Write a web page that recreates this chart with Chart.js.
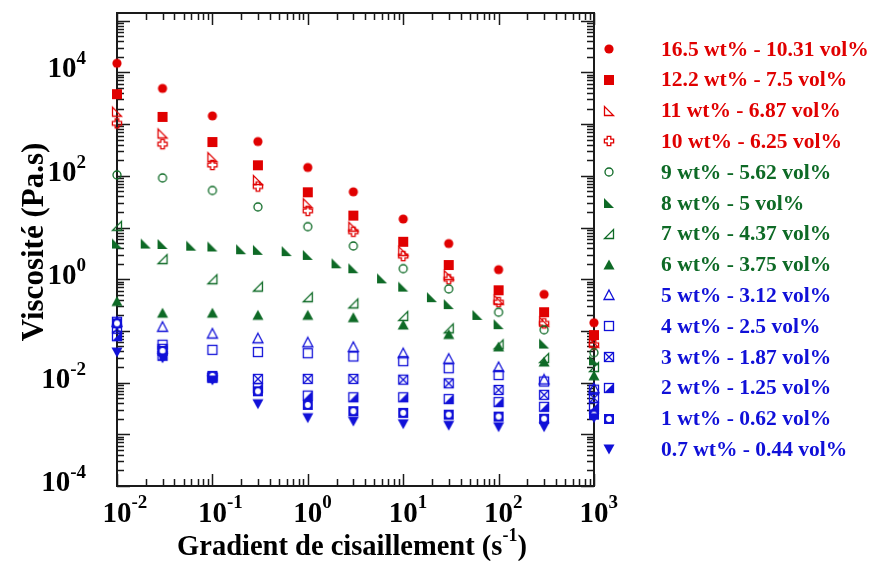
<!DOCTYPE html>
<html>
<head>
<meta charset="utf-8">
<script src="https://cdn.jsdelivr.net/npm/chart.js@4/dist/chart.umd.min.js"></script>
<style>
html, body { margin: 0; padding: 0; background: #fff; }
</style>
</head>
<body>
<canvas id="chart" width="869" height="561"></canvas>
<script>
// shear rates (s-1)
const shear = [0.01, 0.03, 0.1, 0.3, 1, 3, 10, 30, 100, 300, 1000];
const shearFine = [0.01, 0.02, 0.03, 0.06, 0.1, 0.2, 0.3, 0.6, 1, 2, 3, 6, 10, 20, 30, 60, 100, 300, 1000];

const seriesLabels = [
    "16.5 wt% - 10.31 vol%", "12.2 wt% - 7.5 vol%", "11 wt% - 6.87 vol%", "10 wt% - 6.25 vol%",
    "9 wt% - 5.62 vol%", "8 wt% - 5 vol%", "7 wt% - 4.37 vol%", "6 wt% - 3.75 vol%",
    "5 wt% - 3.12 vol%", "4 wt% - 2.5 vol%", "3 wt% - 1.87 vol%", "2 wt% - 1.25 vol%",
    "1 wt% - 0.62 vol%", "0.7 wt% - 0.44 vol%"
];

// viscosity (Pa.s)
const v16_5 = [15000, 4900, 1440, 460, 145, 49, 14.6, 4.9, 1.53, 0.51, 0.144];
const v12_2 = [3800, 1380, 450, 160, 48, 17, 5.3, 1.88, 0.61, 0.23, 0.083];
const v11 = [1740, 660, 230, 83, 29.5, 10.4, 3.5, 1.2, 0.4, 0.15, 0.059];
const v10 = [1035, 410, 162, 62, 21, 8.3, 2.8, 1.0, 0.36, 0.14, 0.054];
const v9 = [104, 91, 52, 25, 10.4, 4.4, 1.6, 0.65, 0.23, 0.105, 0.038];
const v8 = [4.9, 4.9, 4.8, 4.45, 4.3, 3.8, 3.7, 3.5, 2.95, 2.03, 1.63, 1.04, 0.72, 0.45, 0.33, 0.204, 0.135, 0.057, 0.027];
const v7 = [10.8, 2.45, 1.0, 0.72, 0.45, 0.34, 0.195, 0.112, 0.055, 0.03, 0.02];
const v6 = [0.37, 0.22, 0.22, 0.20, 0.20, 0.18, 0.13, 0.085, 0.049, 0.025, 0.0135];
const v5 = [0.15, 0.12, 0.089, 0.072, 0.060, 0.049, 0.037, 0.029, 0.020, 0.0115, 0.0078];
const v4 = [0.15, 0.054, 0.043, 0.039, 0.037, 0.032, 0.026, 0.019, 0.014, 0.0105, 0.0073];
const v3 = [0.11, 0.045, 0.0125, 0.0118, 0.0118, 0.0118, 0.0114, 0.0097, 0.0072, 0.0058, 0.0050];
const v2 = [0.079, 0.033, 0.0125, 0.0078, 0.0056, 0.0052, 0.0052, 0.0048, 0.0042, 0.0034, 0.0034];
const v1 = [0.14, 0.041, 0.0135, 0.0068, 0.0037, 0.0028, 0.0026, 0.0024, 0.0022, 0.0020, 0.0024];
const v0_7 = [0.039, 0.030, 0.0112, 0.0039, 0.0021, 0.0018, 0.0016, 0.0015, 0.0014, 0.0014, 0.0021];

const xTickExp = [-2, -1, 0, 1, 2, 3];
const yTickExp = [-4, -2, 0, 2, 4];

const RED = "#e00000";
const GREEN = "#0e6a26";
const BLUE = "#1010d8";
const SERIF = "'Liberation Serif', 'Times New Roman', serif";

// marker images
function marker(kind, color) {
    const c = document.createElement("canvas");
    c.width = 14; c.height = 14;
    const g = c.getContext("2d");
    g.fillStyle = color; g.strokeStyle = color; g.lineWidth = 1.3;
    const path = pts => { g.beginPath(); g.moveTo(pts[0][0], pts[0][1]); pts.slice(1).forEach(p => g.lineTo(p[0], p[1])); g.closePath(); };
    switch (kind) {
        case "circle": g.beginPath(); g.arc(7, 7, 4.6, 0, Math.PI * 2); g.fill(); break;
        case "square": g.fillRect(2, 2, 10, 10); break;
        case "triBL": path([[2.5, 2.5], [2.5, 11.5], [11.5, 11.5]]); g.stroke(); break;
        case "plus": {
            const a = 1.8, b = 4.6;
            path([[7 - a, 7 - b], [7 + a, 7 - b], [7 + a, 7 - a], [7 + b, 7 - a], [7 + b, 7 + a], [7 + a, 7 + a],
                  [7 + a, 7 + b], [7 - a, 7 + b], [7 - a, 7 + a], [7 - b, 7 + a], [7 - b, 7 - a], [7 - a, 7 - a]]);
            g.stroke(); break;
        }
        case "circleOpen": g.beginPath(); g.arc(7, 7, 4, 0, Math.PI * 2); g.stroke(); break;
        case "triBLFill": path([[2, 2], [2, 12], [12, 12]]); g.fill(); break;
        case "triBR": path([[11.5, 2.5], [11.5, 11.5], [2.5, 11.5]]); g.stroke(); break;
        case "triUpFill": path([[7, 1.5], [12.5, 11.5], [1.5, 11.5]]); g.fill(); break;
        case "triUp": path([[7, 2], [12, 11.5], [2, 11.5]]); g.stroke(); break;
        case "squareOpen": g.strokeRect(2.5, 2.5, 9, 9); break;
        case "squareX":
            g.strokeRect(2.5, 2.5, 9, 9);
            g.beginPath(); g.moveTo(2.5, 2.5); g.lineTo(11.5, 11.5); g.moveTo(11.5, 2.5); g.lineTo(2.5, 11.5); g.stroke(); break;
        case "squareHalf":
            g.strokeRect(2.5, 2.5, 9, 9);
            path([[11.5, 2.5], [11.5, 11.5], [2.5, 11.5]]); g.fill(); break;
        case "squareDot":
            g.fillRect(2, 2, 10, 10);
            g.fillStyle = "#fff"; g.beginPath(); g.arc(7, 7, 2.9, 0, Math.PI * 2); g.fill(); break;
        case "triDownFill": path([[1.5, 2.5], [12.5, 2.5], [7, 12.5]]); g.fill(); break;
    }
    return c;
}

const seriesX = [shear, shear, shear, shear, shear, shearFine, shear, shear, shear, shear, shear, shear, shear, shear];
const seriesY = [v16_5, v12_2, v11, v10, v9, v8, v7, v6, v5, v4, v3, v2, v1, v0_7];
const seriesColor = [RED, RED, RED, RED, GREEN, GREEN, GREEN, GREEN, BLUE, BLUE, BLUE, BLUE, BLUE, BLUE];
const seriesMarker = ["circle", "square", "triBL", "plus", "circleOpen", "triBLFill", "triBR", "triUpFill",
    "triUp", "squareOpen", "squareX", "squareHalf", "squareDot", "triDownFill"];

const markerImgs = seriesMarker.map((m, i) => marker(m, seriesColor[i]));

const datasets = seriesLabels.map((label, i) => ({
    label: label,
    data: seriesY[i].map((v, j) => ({ x: seriesX[i][j], y: v })),
    pointStyle: markerImgs[i],
    pointRadius: 5,
    showLine: false,
    clip: false,
    order: seriesLabels.length - i
}));

// frame, inward ticks, tick labels, titles, legend
const decorations = {
    id: "decorations",
    beforeDatasetsDraw(chart) {
        const { ctx, chartArea: a, scales: { x, y } } = chart;
        ctx.save();
        ctx.strokeStyle = "#1a1a1a";
        ctx.lineWidth = 1.5;
        ctx.beginPath();
        for (let e = -2; e <= 3; e++) {
            for (let k = 1; k <= 9; k++) {
                const v = k * Math.pow(10, e);
                if (v > x.max * 1.0001) break;
                const px = Math.round(x.getPixelForValue(v)) + 0.5;
                const len = k === 1 ? 12 : 7;
                ctx.moveTo(px, a.bottom); ctx.lineTo(px, a.bottom - len);
                ctx.moveTo(px, a.top); ctx.lineTo(px, a.top + len);
            }
        }
        for (let e = -4; e <= 5; e++) {
            for (let k = 1; k <= 9; k++) {
                const v = k * Math.pow(10, e);
                if (v > y.max * 1.0001) break;
                const py = Math.round(y.getPixelForValue(v)) + 0.5;
                const len = k === 1 ? 13 : 7;
                ctx.moveTo(a.left, py); ctx.lineTo(a.left + len, py);
                ctx.moveTo(a.right, py); ctx.lineTo(a.right - len, py);
            }
        }
        ctx.stroke();
        ctx.lineWidth = 2;
        ctx.strokeRect(a.left, a.top, a.right - a.left, a.bottom - a.top);
        ctx.restore();
    },
    afterDraw(chart) {
        const { ctx, scales: { x, y } } = chart;
        ctx.save();
        ctx.fillStyle = "#000";
        ctx.textBaseline = "alphabetic";
        // x tick labels
        xTickExp.forEach(e => {
            const px = x.getPixelForValue(Math.pow(10, e));
            ctx.font = "bold 29px " + SERIF;
            const w = ctx.measureText("10").width;
            ctx.textAlign = "left";
            ctx.fillText("10", px - w / 2, 522);
            ctx.font = "bold 19px " + SERIF;
            ctx.fillText(String(e), px + w / 2, 508);
        });
        // y tick labels
        yTickExp.forEach(e => {
            const py = y.getPixelForValue(Math.pow(10, e));
            ctx.font = "bold 19px " + SERIF;
            const sup = String(e);
            const ws = ctx.measureText(sup).width;
            ctx.font = "bold 29px " + SERIF;
            const w = ctx.measureText("10").width;
            ctx.textAlign = "left";
            const right = 86;
            ctx.fillText("10", right - ws - w, py + 5);
            ctx.font = "bold 19px " + SERIF;
            ctx.fillText(sup, right - ws, py - 8);
        });
        // x title with superscript
        const t1 = "Gradient de cisaillement (s", t2 = "-1", t3 = ")";
        ctx.font = "bold 28.5px " + SERIF;
        const w1 = ctx.measureText(t1).width, w3 = ctx.measureText(t3).width;
        ctx.font = "bold 18px " + SERIF;
        const w2 = ctx.measureText(t2).width;
        let sx = 352 - (w1 + w2 + w3) / 2;
        ctx.font = "bold 28.5px " + SERIF;
        ctx.fillText(t1, sx, 555);
        ctx.font = "bold 18px " + SERIF;
        ctx.fillText(t2, sx + w1, 541);
        ctx.font = "bold 28.5px " + SERIF;
        ctx.fillText(t3, sx + w1 + w2, 555);
        // y title
        ctx.save();
        ctx.translate(43, 242);
        ctx.rotate(-Math.PI / 2);
        ctx.textAlign = "center";
        ctx.font = "bold 31px " + SERIF;
        ctx.fillText("Viscosité (Pa.s)", 0, 0);
        ctx.restore();
        // legend
        ctx.font = "bold 21.5px " + SERIF;
        ctx.textBaseline = "middle";
        ctx.textAlign = "left";
        seriesLabels.forEach((label, i) => {
            const ry = 49 + i * 30.8;
            const img = markerImgs[i];
            ctx.drawImage(img, Math.round(609 - img.width / 2), Math.round(ry - img.height / 2));
            ctx.fillStyle = seriesColor[i];
            ctx.fillText(label, 661, ry + 1);
        });
        ctx.restore();
    }
};

new Chart(document.getElementById("chart"), {
    type: "scatter",
    data: { datasets: datasets },
    options: {
        responsive: false,
        animation: false,
        devicePixelRatio: 1,
        layout: { padding: { left: 0, right: 275, top: 13, bottom: 0 } },
        plugins: { legend: { display: false }, tooltip: { enabled: false } },
        scales: {
            x: {
                type: "logarithmic",
                min: 0.01,
                max: 1000,
                ticks: { display: false },
                grid: { display: false },
                border: { display: false },
                afterFit(scale) { scale.height = 75; }
            },
            y: {
                type: "logarithmic",
                min: 1e-4,
                max: 1.41e5,
                ticks: { display: false },
                grid: { display: false },
                border: { display: false },
                afterFit(scale) { scale.width = 117; }
            }
        }
    },
    plugins: [decorations]
});
</script>
</body>
</html>
